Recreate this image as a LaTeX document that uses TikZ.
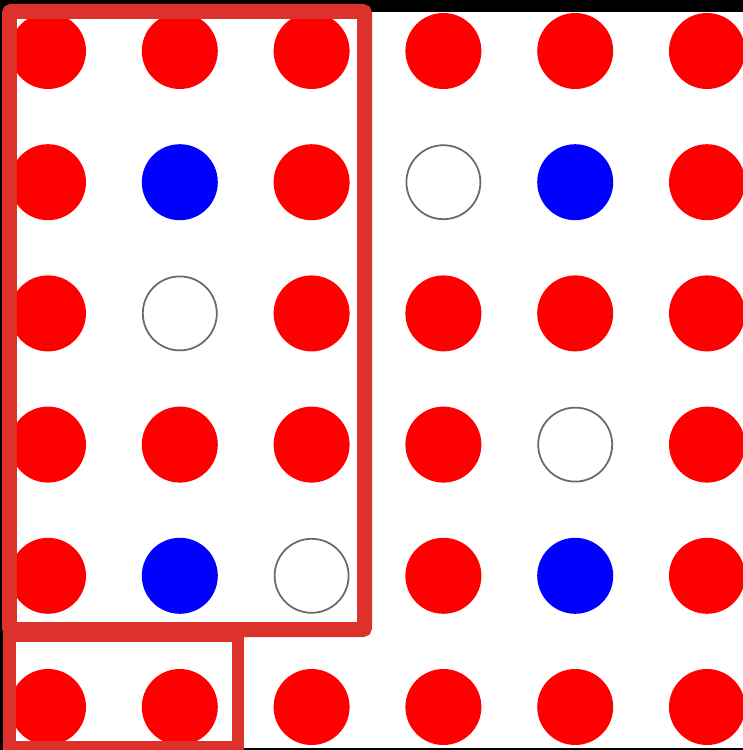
\documentclass[tikz,border=0pt]{standalone}
\usetikzlibrary{positioning}
\definecolor{dotRed}{RGB}{255,0,0}
\definecolor{dotBlue}{RGB}{0,0,255}
\definecolor{frameRed}{RGB}{221,49,43}
\definecolor{ringGray}{RGB}{105,105,105}
\tikzset{
  dot/.style={circle, inner sep=0pt, minimum size=1.52cm},
  redpt/.style={dot, fill=dotRed},
  bluept/.style={dot, fill=dotBlue},
  ringpt/.style={dot, draw=ringGray, line width=0.035cm, fill=white, minimum size=1.48cm},
  bigframe/.style={draw=frameRed, line width=0.3cm, rounded corners=0.04cm},
  smallframe/.style={draw=frameRed, line width=0.25cm}
}

\begin{document}
\begin{tikzpicture}[x=0.02cm, y=-0.02cm]
  \useasboundingbox (0,0) rectangle (743,750);
  \clip (0,0) rectangle (743,750);
  % screen background
  \fill[black] (0,0) rectangle (743,750);
  \fill[white] (2.5,12) rectangle (743,748);
  % lattice of dots, row by row
  \foreach \row [count=\j] in {
      {redpt,redpt,redpt,redpt,redpt,redpt},
      {redpt,bluept,redpt,ringpt,bluept,redpt},
      {redpt,ringpt,redpt,redpt,redpt,redpt},
      {redpt,redpt,redpt,redpt,ringpt,redpt},
      {redpt,bluept,ringpt,redpt,bluept,redpt},
      {redpt,redpt,redpt,redpt,redpt,redpt}} {
    \foreach \t [count=\i] in \row {
      \node[\t] (p\i-\j) at ({48+131.8*(\i-1)},{51+131.2*(\j-1)}) {};
    }
  }
  % frames
  \draw[smallframe] (9.5,636) rectangle (238,747);
  \draw[bigframe] (9.5,11.5) rectangle (364.5,629.5);
\end{tikzpicture}
\end{document}
